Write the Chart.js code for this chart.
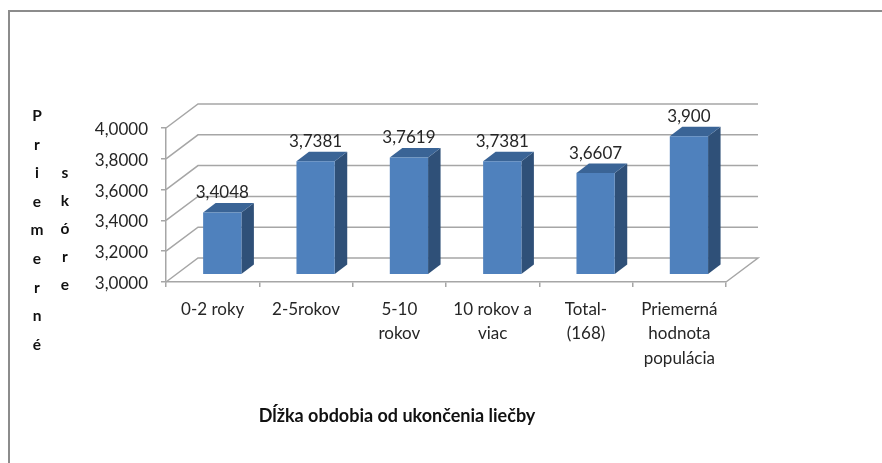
<!DOCTYPE html>
<html><head><meta charset="utf-8">
<style>html,body{margin:0;padding:0;background:#fff}#w{width:882px;height:463px}</style>
<script src="https://cdn.jsdelivr.net/npm/chart.js@4"></script></head>
<body><div id="w"><canvas id="c" width="882" height="463"></canvas></div>
<script>
const categories = [["0-2 roky"],["2-5rokov"],["5-10","rokov"],["10 rokov a","viac"],["Total-","(168)"],["Priemerná","hodnota","populácia"]];
const values = [3.4048,3.7381,3.7619,3.7381,3.6607,3.9];
const valueLabels = ["3,4048","3,7381","3,7619","3,7381","3,6607","3,900"];
const yTitle1 = ["P","r","i","e","m","e","r","n","é"];
const yTitle2 = ["s","k","ó","r","e"];
const xTitle = "Dĺžka obdobia od ukončenia liečby";

const FONT = 'Lato, "Open Sans", sans-serif';
const WALL = {dx:32, dy:-24};
const BAR = {dx:9.6, dy:-7.2, depthX:12.5, depthY:-9.5};
const GRID = '#a6a6a6';

const scene = {
  id:'scene',
  beforeDraw(ch){
    const c=ch.ctx, a=ch.chartArea, y=ch.scales.y;
    c.save();
    c.fillStyle='#8c8c8c';
    c.fillRect(8,10,874,2);
    c.fillRect(8,10,2,453);
    c.strokeStyle=GRID; c.lineWidth=1.5;
    y.ticks.forEach(t=>{
      const p=y.getPixelForValue(t.value);
      c.beginPath();
      c.moveTo(a.left,p);
      c.lineTo(a.left+WALL.dx,p+WALL.dy);
      c.lineTo(a.right+WALL.dx,p+WALL.dy);
      if(t.value===y.min) c.lineTo(a.right,p);
      c.stroke();
    });
    c.restore();
  },
  beforeDatasetsDraw(ch){
    const c=ch.ctx;
    c.save();
    c.translate(BAR.dx,BAR.dy);
    ch.getDatasetMeta(0).data.forEach(b=>{
      const l=b.x-b.width/2, r=b.x+b.width/2, t=b.y, g=b.base;
      c.fillStyle='#2f5078';
      c.beginPath();
      c.moveTo(r,t);c.lineTo(r+BAR.depthX,t+BAR.depthY);c.lineTo(r+BAR.depthX,g+BAR.depthY);c.lineTo(r,g);
      c.closePath();c.fill();
      c.fillStyle='#3a6496';
      c.beginPath();
      c.moveTo(l,t);c.lineTo(l+BAR.depthX,t+BAR.depthY);c.lineTo(r+BAR.depthX,t+BAR.depthY);c.lineTo(r,t);
      c.closePath();c.fill();
    });
  },
  afterDatasetsDraw(ch){
    const c=ch.ctx;
    c.restore();
    c.save();
    c.fillStyle='#262626';
    c.font='17px '+FONT;
    c.textAlign='center';c.textBaseline='middle';
    ch.getDatasetMeta(0).data.forEach((b,i)=>{
      c.fillText(valueLabels[i],b.x+BAR.dx,b.y+BAR.dy-20);
    });
    c.fillStyle='#111';
    c.font='bold 15.5px '+FONT;
    yTitle1.forEach((s,i)=>c.fillText(s,37,116+i*28.6));
    yTitle2.forEach((s,i)=>c.fillText(s,65,173+i*28));
    c.font='bold 18px '+FONT;
    c.fillText(xTitle,397,416);
    c.restore();
  }
};

new Chart(document.getElementById('c'),{
  type:'bar',
  data:{labels:categories,datasets:[{data:values,base:3,backgroundColor:'#4f81bd',borderWidth:0,
    barPercentage:0.41,categoryPercentage:1,clip:false}]},
  plugins:[scene],
  options:{
    responsive:false,animation:false,
    layout:{autoPadding:false,padding:{left:0,top:128,right:156,bottom:0}},
    plugins:{legend:{display:false},tooltip:{enabled:false}},
    scales:{
      x:{
        afterFit(s){s.height=181;},
        grid:{display:true,drawOnChartArea:false,drawTicks:true,tickLength:5,offset:true,color:GRID,lineWidth:1.5},
        border:{display:true,color:GRID,width:1.5},
        ticks:{color:'#262626',font:{family:FONT,size:17,lineHeight:1.45},padding:10,maxRotation:0,autoSkip:false}
      },
      y:{
        min:3,max:4,
        afterFit(s){s.width=166;},
        grid:{display:true,drawOnChartArea:false,drawTicks:true,tickLength:5,color:GRID,lineWidth:1.5},
        border:{display:true,color:GRID,width:1.5},
        ticks:{stepSize:0.2,color:'#262626',padding:13,labelOffset:1.5,font:{family:FONT,size:17},
          callback:v=>v.toFixed(4).replace('.',',')}
      }
    }
  }
});
</script></body></html>
